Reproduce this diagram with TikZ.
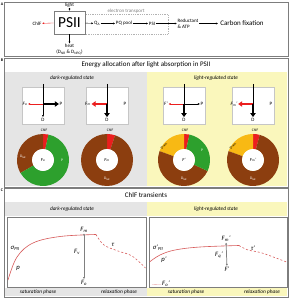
\documentclass[tikz,border=0pt]{standalone}
\usepackage{fontspec}
\setmainfont{Carlito}
\usetikzlibrary{arrows.meta,calc}

\definecolor{bgdark}{RGB}{229,229,229}
\definecolor{bglight}{RGB}{250,247,188}
\definecolor{ringbrown}{RGB}{140,62,15}
\definecolor{ringgreen}{RGB}{45,160,45}
\definecolor{ringred}{RGB}{235,30,30}
\definecolor{ringyellow}{RGB}{248,185,20}
\definecolor{curvered}{RGB}{215,90,90}
\definecolor{framegray}{RGB}{125,125,125}

% one coloured sector of a ring: centre, from angle, to angle, colour
\newcommand{\ringpart}[4]{%
  \fill[#4] ($(#1)+(#2:39pt)$) arc[start angle=#2, end angle=#3, radius=39pt]
    -- ($(#1)+(#3:16.5pt)$) arc[start angle=#3, end angle=#2, radius=16.5pt] -- cycle;}
\newcommand{\fsub}[2]{\textit{#1}\textsubscript{\textit{#2}}}

\begin{document}
\begin{tikzpicture}[
    x=1.5pt, y=1.5pt,
    font=\fontsize{7.5}{8.5}\selectfont,
    panel/.style={draw=framegray, line width=0.8pt},
    tag/.style={font=\fontsize{6}{7}\selectfont\bfseries, inner sep=0pt},
    psbox/.style={draw=framegray, line width=1pt, fill=white, minimum width=46.5pt,
                  minimum height=34.5pt, inner sep=0pt, font=\fontsize{23}{24}\selectfont},
    etbox/.style={draw=gray!60, dotted, line width=0.7pt, minimum width=126pt, minimum height=30pt},
    flow/.style={-{Latex[length=3pt,width=3pt]}, line width=0.5pt},
    title/.style={font=\fontsize{10.5}{12}\selectfont},
    statelbl/.style={font=\fontsize{8}{9}\selectfont\itshape},
    allocbox/.style={draw=gray!45, fill=white, minimum width=63pt, minimum height=55.5pt},
    thinarr/.style={-{Latex[length=3pt,width=3pt]}, line width=0.5pt},
    thickarr/.style={-{Triangle[length=6pt,width=8pt]}, line width=2.6pt},
    stem/.style={line width=1.3pt},
    small/.style={font=\fontsize{7.5}{8.5}\selectfont, inner sep=1pt},
    tiny/.style={font=\fontsize{5.5}{6.5}\selectfont, inner sep=0.5pt},
    core/.style={circle, fill=white, minimum size=33pt, inner sep=0pt, font=\fontsize{7}{8}\selectfont},
    curve/.style={curvered, line width=0.9pt},
    trace/.style={font=\fontsize{10}{11}\selectfont, inner sep=1pt},
    span/.style={{Latex[length=3pt,width=3.5pt]}-{Latex[length=3pt,width=3.5pt]}, gray, line width=1.1pt},
]
\useasboundingbox (0,0) rectangle (290,300);

% =====================  A  =====================
\draw[panel] (4,244) rectangle (288,298);
\node[tag] (tagA) at (2,296) {A};

\node[etbox]                (et)    at (126,276) {};
\node[small, text=gray, anchor=south] (etlbl) at (et.north) {electron transport};

\node[psbox]                (psii)  at (69.5,277.5) {PSII};
\node[small]                (light) at (69.5,295) {light};
\node[small, align=center]  (heat)  at (69.5,250.5) {heat\\(D\textsubscript{NR} \& D\textsubscript{NPQ})};
\node[small]                (chlf)  at (37,276.5) {ChlF};
\node[small]                (qa)    at (97,276.5) {Q\textsubscript{A}};
\node[small]                (pq)    at (124,276.5) {PQ pool};
\node[small]                (psi)   at (152,276.5) {PSI};
\node[small, align=left]    (redu)  at (188,276.5) {Reductant\\\& ATP};
\node[font=\fontsize{10.5}{12}\selectfont] (cfix) at (242,276.5) {Carbon fixation};

\draw[flow]           (light) -- (psii);
\draw[flow]           (psii)  -- (heat);
\draw[flow, ringred]  (psii)  -- (chlf);
\draw[flow]           (psii)  -- (qa);
\draw[flow]           (qa)    -- (pq);
\draw[flow]           (pq)    -- (psi);
\draw[flow]           (psi)   -- (redu);
\draw[flow]           (redu)  -- (cfix);

% =====================  B  =====================
\fill[bgdark]  (5,114) rectangle (147,228);
\fill[bglight] (147,114) rectangle (287,228);
\draw[panel] (4,113) rectangle (288,242);
\node[tag] (tagB) at (2,240) {B};
\node[title] (titleB) at (146,235) {Energy allocation after light absorption in PSII};
\node[statelbl] (darkB)  at (72,222)  {dark-regulated state};
\node[statelbl] (lightB) at (216,222) {light-regulated state};

% the four allocation boxes
\node[allocbox] (box1) at (43,194.5)  {};
\node[allocbox] (box2) at (107,194.5) {};
\node[allocbox] (box3) at (184,194.5) {};
\node[allocbox] (box4) at (253,194.5) {};

\coordinate (top1) at (43,216);  \coordinate (j1) at (43,196);
\coordinate (top2) at (107,216); \coordinate (j2) at (107,196);
\coordinate (top3) at (184,216); \coordinate (j3) at (184,196);
\coordinate (top4) at (253,216); \coordinate (j4) at (253,196);

\node[small] (f1) at (25,196)    {\fsub{F}{o}};
\node[small] (p1) at (61,196)    {P};
\node[small] (d1) at (43,180.5)  {D};
\node[small] (f2) at (88,196)    {\fsub{F}{m}};
\node[small] (p2) at (125,196)   {P};
\node[small] (d2) at (107,180.5) {D};
\node[small] (f3) at (166,196)   {\textit{F'}};
\node[small] (p3) at (202,196)   {P};
\node[small] (d3) at (184,180.5) {D};
\node[small] (f4) at (234,196)   {\fsub{F}{m}\textit{'}};
\node[small] (p4) at (271,196)   {P};
\node[small] (d4) at (253,180.5) {D};

\draw[stem] (top1) -- (j1);
\draw[thinarr, ringred]  (j1) -- (f1);
\draw[thickarr]          (j1) -- (p1);
\draw[thinarr]           (j1) -- (d1);

\draw[stem] (top2) -- (j2);
\draw[thickarr, ringred] (j2) -- (f2);
\draw[thickarr]          (j2) -- (d2);

\draw[stem] (top3) -- (j3);
\draw[thinarr, ringred]  (j3) -- (f3);
\draw[thinarr]           (j3) -- (p3);
\draw[thickarr]          (j3) -- (d3);

\draw[stem] (top4) -- (j4);
\draw[thickarr, ringred] (j4) -- (f4);
\draw[thickarr]          (j4) -- (d4);

% the four rings
\coordinate (ring1) at (43,140);
\coordinate (ring2) at (107,140);
\coordinate (ring3) at (184,140);
\coordinate (ring4) at (253,140);

\ringpart{ring1}{78}{90}{ringred}
\ringpart{ring1}{90}{210}{ringbrown}
\ringpart{ring1}{210}{438}{ringgreen}

\ringpart{ring2}{72}{90}{ringred}
\ringpart{ring2}{90}{432}{ringbrown}

\ringpart{ring3}{78}{90}{ringred}
\ringpart{ring3}{90}{160}{ringyellow}
\ringpart{ring3}{160}{335}{ringbrown}
\ringpart{ring3}{335}{438}{ringgreen}

\ringpart{ring4}{75}{90}{ringred}
\ringpart{ring4}{90}{160}{ringyellow}
\ringpart{ring4}{160}{435}{ringbrown}

\node[core] (core1) at (ring1) {\fsub{F}{o}};
\node[core] (core2) at (ring2) {\fsub{F}{m}};
\node[core] (core3) at (ring3) {\textit{F'}};
\node[core] (core4) at (ring4) {\fsub{F}{m}\textit{'}};

\node[tiny] (chlf1) at (44,169.5)  {ChlF};
\node[tiny] (chlf2) at (110,169.5) {ChlF};
\node[tiny] (chlf3) at (185,169.5) {ChlF};
\node[tiny] (chlf4) at (255,169.5) {ChlF};

\node[tiny, text=white] (dnr1) at (23,143)  {D\textsubscript{NR}};
\node[tiny, text=white] (pp1)  at (62,140)  {P};
\node[tiny, text=white] (dnr2) at (107,121) {D\textsubscript{NR}};
\node[tiny, rotate=55]  (dnpq3) at (164,154) {D\textsubscript{NPQ}};
\node[tiny, text=white] (pp3)  at (202,150) {P};
\node[tiny, text=white] (dnr3) at (184,121) {D\textsubscript{NR}};
\node[tiny, rotate=55]  (dnpq4) at (233,154) {D\textsubscript{NPQ}};
\node[tiny, text=white] (dnr4) at (253,121) {D\textsubscript{NR}};

% =====================  C  =====================
\fill[bgdark]  (5,84) rectangle (147,98);
\fill[bglight] (147,84) rectangle (287,98);
\fill[bgdark]  (5,4) rectangle (147,11.5);
\fill[bglight] (147,4) rectangle (287,11.5);
\draw[panel] (4,3) rectangle (288,112);
\node[tag] (tagC) at (2,110) {C};
\node[title] (titleC) at (146,105) {ChlF transients};
\node[statelbl] (darkC)  at (72,91)  {dark-regulated state};
\node[statelbl] (lightC) at (216,91) {light-regulated state};
\draw[draw=framegray, fill=white] (7,12.5) rectangle (146,83);
\draw[draw=framegray, fill=white] (149,12.5) rectangle (287,83);
\node[statelbl] (sat1) at (38,7.8)  {saturation phase};
\node[statelbl] (rel1) at (119,7.8) {relaxation phase};
\node[statelbl] (sat2) at (186,7.8) {saturation phase};
\node[statelbl] (rel2) at (262,7.8) {relaxation phase};

% dark-regulated transient
\draw[curve] plot[smooth, tension=0.6] coordinates {(8,20) (17,43) (33,57) (60,63.5) (96,65.5)};
\draw[curve, dashed] plot[smooth, tension=0.6] coordinates {(96,65.5) (104,55) (118,49) (132,44) (145.5,32)};
\node[trace] (fm)    at (84,70)  {\fsub{F}{m}};
\node[trace] (fv)    at (77,48)  {\fsub{F}{v}};
\node[trace] (fo)    at (84,17.5) {\fsub{F}{o}};
\node[trace] (sigma) at (15,52)  {\fsub{σ}{PII}};
\node[trace] (rho)   at (18,32)  {\textit{p}};
\node[trace] (tau)   at (113,55) {\textit{τ}};
\draw[span] (fm) -- (fo);

% light-regulated transient
\draw[curve] plot[smooth, tension=0.6] coordinates {(149.5,38) (160,45) (175,50) (200,53) (239,54.5)};
\draw[curve, dashed] plot[smooth, tension=0.6] coordinates {(239,54.5) (248,50) (262,47) (286.5,38)};
\node[trace] (fmp)    at (226,61)  {\fsub{F}{m}\textit{'}};
\node[trace] (fqp)    at (219,45)  {\fsub{F}{q}\textit{'}};
\node[trace] (fp)     at (227,31)  {\textit{F'}};
\node[trace] (sigmap) at (158,52)  {\textit{σ'}\textsubscript{\textit{PII}}};
\node[trace] (rhop)   at (164,40)  {\textit{p'}};
\node[trace] (taup)   at (253,52)  {\textit{τ'}};
\node[trace] (fop)    at (166,16)  {\fsub{F}{o}\textit{'}};
\coordinate (fotick) at (152,15.5);
\draw[curvered!60, line width=0.5pt] (fotick) -- (fop);
\draw[span] (fmp) -- (fp);

\end{tikzpicture}
\end{document}
